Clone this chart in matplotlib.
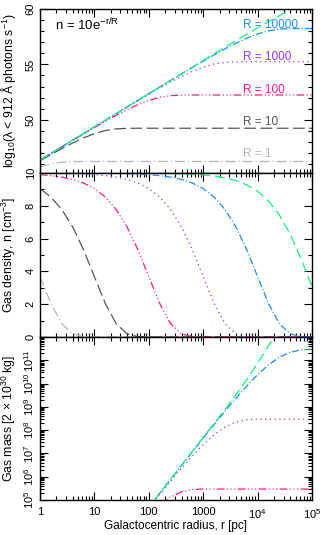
import numpy as np
import matplotlib
matplotlib.use("Agg")
import matplotlib.pyplot as plt
from matplotlib.ticker import MultipleLocator, LogLocator, NullFormatter

plt.rcParams['font.family'] = ['Liberation Sans', 'DejaVu Sans']
plt.rcParams['mathtext.default'] = 'regular'
plt.rcParams['lines.scale_dashes'] = False
plt.rcParams['font.size'] = 8

# radii sampled along the curves (log10 of r in pc)
log_r = [0.0, 0.2, 0.4, 0.6, 0.8, 1.0, 1.2, 1.4, 1.6, 1.8, 2.0, 2.2, 2.4,
         2.6, 2.8, 3.0, 3.2, 3.4, 3.6, 3.8, 4.0, 4.2, 4.4, 4.6, 4.8, 5.0]

# top panel: log10 ionising photon rate
q_R1 = [45.75, 46.03, 46.18, 46.23, 46.24, 46.24, 46.24, 46.24, 46.24, 46.24,
        46.24, 46.24, 46.24, 46.24, 46.24, 46.24, 46.24, 46.24, 46.24, 46.24,
        46.24, 46.24, 46.24, 46.24, 46.24, 46.24]
q_R10 = [46.30, 46.86, 47.40, 47.91, 48.37, 48.75, 49.03, 49.18, 49.23, 49.24,
         49.24, 49.24, 49.24, 49.24, 49.24, 49.24, 49.24, 49.24, 49.24, 49.24,
         49.24, 49.24, 49.24, 49.24, 49.24, 49.24]
q_R100 = [46.36, 46.96, 47.55, 48.14, 48.72, 49.30, 49.86, 50.40, 50.91, 51.37,
          51.75, 52.03, 52.18, 52.23, 52.24, 52.24, 52.24, 52.24, 52.24, 52.24,
          52.24, 52.24, 52.24, 52.24, 52.24, 52.24]
q_R1000 = [46.36, 46.96, 47.56, 48.16, 48.76, 49.36, 49.96, 50.55, 51.14, 51.72,
           52.30, 52.86, 53.40, 53.91, 54.37, 54.75, 55.03, 55.18, 55.23, 55.24,
           55.24, 55.24, 55.24, 55.24, 55.24, 55.24]
q_R1e4 = [46.37, 46.97, 47.57, 48.16, 48.76, 49.36, 49.96, 50.56, 51.16, 51.76,
          52.36, 52.96, 53.55, 54.14, 54.72, 55.30, 55.86, 56.40, 56.91, 57.37,
          57.75, 58.03, 58.18, 58.23, 58.24, 58.24]
q_R1e5 = [46.37, 46.97, 47.57, 48.17, 48.77, 49.37, 49.97, 50.56, 51.16, 51.76,
          52.36, 52.96, 53.56, 54.16, 54.76, 55.36, 55.96, 56.55, 57.14, 57.72,
          58.30, 58.86, 59.40, 59.91, 60.37, 60.75]

# middle panel: gas density [cm^-3]
n_R1 = [3.68, 2.05, 0.81, 0.19, 0.02, 0, 0, 0, 0, 0, 0, 0, 0,
        0, 0, 0, 0, 0, 0, 0, 0, 0, 0, 0, 0, 0]
n_R10 = [9.05, 8.53, 7.78, 6.72, 5.32, 3.68, 2.05, 0.81, 0.19, 0.02, 0, 0, 0,
         0, 0, 0, 0, 0, 0, 0, 0, 0, 0, 0, 0, 0]
n_R100 = [9.90, 9.84, 9.75, 9.61, 9.39, 9.05, 8.53, 7.78, 6.72, 5.32, 3.68, 2.05,
          0.81, 0.19, 0.02, 0, 0, 0, 0, 0, 0, 0, 0, 0, 0, 0]
n_R1000 = [9.99, 9.98, 9.97, 9.96, 9.94, 9.90, 9.84, 9.75, 9.61, 9.39, 9.05, 8.53,
           7.78, 6.72, 5.32, 3.68, 2.05, 0.81, 0.19, 0.02, 0, 0, 0, 0, 0, 0]
n_R1e4 = [10.0, 10.0, 10.0, 10.0, 9.99, 9.99, 9.98, 9.97, 9.96, 9.94, 9.90, 9.84,
          9.75, 9.61, 9.39, 9.05, 8.53, 7.78, 6.72, 5.32, 3.68, 2.05, 0.81, 0.19,
          0.02, 0.0]
n_R1e5 = [10.0, 10.0, 10.0, 10.0, 10.0, 10.0, 10.0, 10.0, 10.0, 10.0, 9.99, 9.98,
          9.97, 9.95, 9.93, 9.88, 9.82, 9.71, 9.54, 9.28, 8.89, 8.30, 7.44, 6.26,
          4.76, 3.08]

# bottom panel: log10 gas mass [2e30 kg]
m_R100 = [-1.31, -0.71, -0.12, 0.48, 1.07, 1.66, 2.24, 2.81, 3.36, 3.89, 4.38,
          4.80, 5.13, 5.35, 5.45, 5.47, 5.47, 5.47, 5.47, 5.47, 5.47, 5.47, 5.47,
          5.47, 5.47, 5.47]
m_R1000 = [-1.31, -0.71, -0.11, 0.49, 1.09, 1.69, 2.29, 2.88, 3.48, 4.07, 4.66,
           5.24, 5.81, 6.36, 6.89, 7.38, 7.80, 8.13, 8.35, 8.45, 8.47, 8.47, 8.47,
           8.47, 8.47, 8.47]
m_R1e4 = [-1.31, -0.71, -0.11, 0.49, 1.09, 1.69, 2.29, 2.89, 3.49, 4.09, 4.69,
          5.29, 5.88, 6.48, 7.07, 7.66, 8.24, 8.81, 9.36, 9.89, 10.38, 10.80,
          11.13, 11.35, 11.45, 11.47]
m_R1e5 = [-1.31, -0.71, -0.11, 0.49, 1.09, 1.69, 2.29, 2.89, 3.49, 4.09, 4.69,
          5.29, 5.89, 6.49, 7.09, 7.69, 8.29, 8.88, 9.52, 10.17, 10.88, 11.62,
          12.38, 13.10, 13.80, 14.50]

labels = ['R = 1', 'R = 10', 'R = 100', 'R = 1000', 'R = 10000']

# line looks for R = 1, 10, 100, 1000, 1e4, 1e5
colors = ['#b4b4b4', '#555555', '#ff1a8c', '#9933ff', '#1a8cff', '#14f07c']
styles = [(0, (7, 2.2, 0.8, 2.2)),
          (0, (8.5, 3.2)),
          (0, (5.5, 1.8, 0.8, 1.8, 0.8, 1.8, 0.8, 1.8)),
          (0, (0.9, 2.5)),
          (0, (5, 1.6, 0.8, 1.6)),
          (0, (7, 3.5))]

r = 10 ** np.array(log_r)

fig = plt.figure(figsize=(3.2, 5.35), dpi=100)
L, W = 40 / 320, 272 / 320
ax1 = fig.add_axes([L, 1 - 173 / 535, W, 164 / 535])
ax2 = fig.add_axes([L, 1 - 337 / 535, W, 164 / 535])
ax3 = fig.add_axes([L, 1 - 500 / 535, W, 163 / 535])

for i, q in enumerate([q_R1, q_R10, q_R100, q_R1000, q_R1e4, q_R1e5]):
    ax1.plot(r, q, color=colors[i], ls=styles[i], lw=0.9)
for i, n in enumerate([n_R1, n_R10, n_R100, n_R1000, n_R1e4, n_R1e5]):
    ax2.plot(r, n, color=colors[i], ls=styles[i], lw=0.9)
for i, m in zip([2, 3, 4, 5], [m_R100, m_R1000, m_R1e4, m_R1e5]):
    ax3.plot(r, 10 ** np.array(m), color=colors[i], ls=styles[i], lw=0.9)

for ax in (ax1, ax2, ax3):
    ax.set_xscale('log')
    ax.set_xlim(1, 1e5)
    ax.set_xticks([1, 10, 100, 1000, 1e4, 1e5])
    ax.xaxis.set_minor_locator(LogLocator(subs=np.arange(2, 10)))
    ax.xaxis.set_minor_formatter(NullFormatter())
    ax.tick_params(which='both', direction='in', top=True, right=True,
                   width=0.8, color='black', labelsize=8)
    ax.tick_params(which='major', length=6)
    ax.tick_params(which='minor', length=3)
    ax.tick_params(axis='y', labelrotation=90, pad=3)
    for s in ax.spines.values():
        s.set_linewidth(1.0)

ax1.tick_params(labelbottom=False)
ax2.tick_params(labelbottom=False)

ax1.set_ylim(45.2, 60)
ax1.yaxis.set_major_locator(MultipleLocator(5))
ax1.yaxis.set_minor_locator(MultipleLocator(1))
ax1.set_ylabel('log$_{10}$(λ < 912 Å photons s$^{-1}$)', fontsize=8.8)
ax1.text(0.055, 0.90, 'n = 10e$^{-r/R}$', transform=ax1.transAxes,
         va='center', ha='left', fontsize=9.5)
for lab, c, y in zip(labels, colors, [0.116, 0.311, 0.506, 0.707, 0.902]):
    ax1.text(0.746, y, lab, color=c, transform=ax1.transAxes,
             va='center', ha='left', fontsize=8.5)

ax2.set_ylim(0, 10)
ax2.yaxis.set_major_locator(MultipleLocator(2))
ax2.yaxis.set_minor_locator(MultipleLocator(1))
ax2.set_ylabel('Gas density, n [cm$^{-3}$]', fontsize=8.8)

ax3.set_yscale('log')
ax3.set_ylim(1e5, 1e12)
ax3.set_yticks([1e5, 1e6, 1e7, 1e8, 1e9, 1e10, 1e11, 1e12],
               ['10$^{5}$', '10$^{6}$', '10$^{7}$', '10$^{8}$', '10$^{9}$',
                '10$^{10}$', '10$^{11}$', ''])
ax3.yaxis.set_minor_locator(LogLocator(subs=np.arange(2, 10)))
ax3.yaxis.set_minor_formatter(NullFormatter())
ax3.set_xticklabels(['1', '10', '100', '1000', '10$^{4}$', '10$^{5}$'])
ax3.tick_params(axis='x', pad=5)
ax3.set_ylabel('Gas mass [2 × 10$^{30}$ kg]', fontsize=8.8)
ax3.set_xlabel('Galactocentric radius, r [pc]', fontsize=8.5)
ax3.xaxis.set_label_coords(0.5, -0.125)

for ax in (ax1, ax2, ax3):
    for t in ax.get_yticklabels():
        t.set_va('center')
    ax.yaxis.set_label_coords(-0.08, 0.5)

fig.savefig('out.png', dpi=100)
